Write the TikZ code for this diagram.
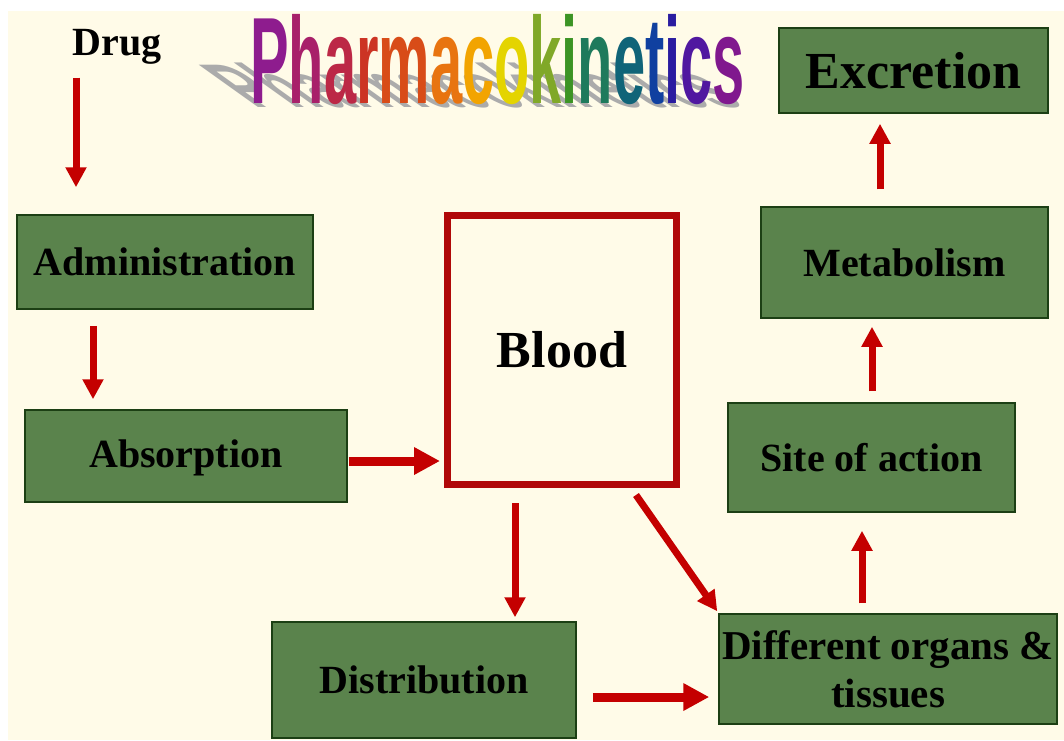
\documentclass[tikz,border=0pt]{standalone}
\usepackage{fontspec}
\setmainfont{Liberation Serif}
\newfontfamily\titlefont{Liberation Sans}
\usetikzlibrary{arrows.meta}
\definecolor{cream}{HTML}{FFFBE8}
\definecolor{boxgreen}{HTML}{5A834C}
\definecolor{boxedge}{HTML}{1C3F14}
\definecolor{arrred}{HTML}{C40000}
\definecolor{bloodred}{HTML}{B00808}
\definecolor{shadowgray}{HTML}{ABABAB}
\definecolor{t1}{HTML}{8E1C8E}
\definecolor{t2}{HTML}{A8206A}
\definecolor{t3}{HTML}{BC2846}
\definecolor{t4}{HTML}{CC3424}
\definecolor{t5}{HTML}{D84C18}
\definecolor{t6}{HTML}{E87410}
\definecolor{t7}{HTML}{F2A400}
\definecolor{t8}{HTML}{E4D400}
\definecolor{t9}{HTML}{80A828}
\definecolor{t10}{HTML}{3C9424}
\definecolor{t11}{HTML}{1E7A5C}
\definecolor{t12}{HTML}{106478}
\definecolor{t13}{HTML}{1040A0}
\definecolor{t14}{HTML}{2A1CA0}
\definecolor{t15}{HTML}{5018A0}
\definecolor{t16}{HTML}{80188E}
\newcommand{\pkword}[1]{\titlefont\bfseries\fontsize{123}{123}\selectfont\scalebox{0.47}[1]{#1}}
\tikzset{
  gbox/.style={draw=boxedge, line width=1.5pt, fill=boxgreen, inner sep=0pt,
    font=\bfseries\fontsize{40}{48}\selectfont, text=black, align=center},
  lbl/.style={font=\bfseries\fontsize{40}{48}\selectfont, inner sep=0pt},
  arr/.style={draw=arrred, line width=7pt, -{Triangle[width=20pt,length=20pt]}, arrred},
  arrbig/.style={draw=arrred, line width=9pt, -{Triangle[width=26pt,length=26pt]}, arrred},
}
\begin{document}
\begin{tikzpicture}[x=1pt,y=-1pt]
\useasboundingbox (0,0) rectangle (1064,740);
\fill[white] (0,0) rectangle (1064,740);
\fill[cream] (8,11) rectangle (1064,740);

% title shadow
\begin{scope}[shift={(254,107)}, yscale=0.5, xslant=-0.7]
  \node[anchor=base west, inner sep=0pt, transform shape, text=shadowgray] (shadow) at (0,0)
    {\pkword{Pharmacokinetics}};
\end{scope}
% title
\node[anchor=base west, inner sep=0pt] (title) at (250,103)
  {\pkword{\textcolor{t1}{P}\textcolor{t2}{h}\textcolor{t3}{a}\textcolor{t4}{r}\textcolor{t5}{m}\textcolor{t6}{a}\textcolor{t7}{c}\textcolor{t8}{o}\textcolor{t9}{k}\textcolor{t10}{i}\textcolor{t11}{n}\textcolor{t12}{e}\textcolor{t13}{t}\textcolor{t14}{i}\textcolor{t15}{c}\textcolor{t16}{s}}};

\node[lbl] (drug) at (117,47) {Drug};

\node[gbox, minimum width=296pt, minimum height=94pt] (adm) at (165,262) {Administration};
\node[gbox, minimum width=322pt, minimum height=92pt, text depth=4pt] (abs) at (186,456) {Absorption};
\node[draw=bloodred, line width=7pt, fill=cream, minimum width=229pt, minimum height=269pt,
  inner sep=0pt, font=\bfseries\fontsize{52}{60}\selectfont] (blood) at (562,350) {Blood};
\node[gbox, minimum width=304pt, minimum height=116pt] (dist) at (424,680) {Distribution};
\node[gbox, minimum width=338pt, minimum height=110pt, font=\bfseries\fontsize{41}{48}\selectfont] (org) at (888,669) {Different organs \&\\tissues};
\node[gbox, minimum width=287pt, minimum height=109pt] (site) at (871.5,457.5) {Site of action};
\node[gbox, minimum width=287pt, minimum height=111pt] (met) at (904.5,262.5) {Metabolism};
\node[gbox, minimum width=269pt, minimum height=85pt, font=\bfseries\fontsize{52}{60}\selectfont] (exc) at (913.5,70.5) {Excretion};

% arrows
\draw[arr] ([xshift=-41pt,yshift=-13pt]drug.south) -- ([xshift=-89pt,yshift=27pt]adm.north);
\draw[arr] ([xshift=-72pt,yshift=-16pt]adm.south) -- ([xshift=-93pt,yshift=10pt]abs.north);
\draw[arrbig] ([xshift=1pt,yshift=-5pt]abs.east) -- ([xshift=-4pt,yshift=-111pt]blood.west);
\draw[arr] ([xshift=-47pt,yshift=-15pt]blood.south) -- ([xshift=91pt,yshift=4pt]dist.north);
\draw[arr] ([xshift=74pt,yshift=-7pt]blood.south) -- ([xshift=-1pt,yshift=2pt]org.north west);
\draw[arrbig] ([xshift=16pt,yshift=-17pt]dist.east) -- ([xshift=-9pt,yshift=-28pt]org.west);
\draw[arr] ([xshift=-26pt,yshift=10pt]org.north) -- ([xshift=-9.5pt,yshift=-18pt]site.south);
\draw[arr] ([xshift=0.5pt,yshift=11pt]site.north) -- ([xshift=-32.5pt,yshift=-8pt]met.south);
\draw[arr] ([xshift=-24.5pt,yshift=17pt]met.north) -- ([xshift=-33.5pt,yshift=-10pt]exc.south);
\end{tikzpicture}
\end{document}
